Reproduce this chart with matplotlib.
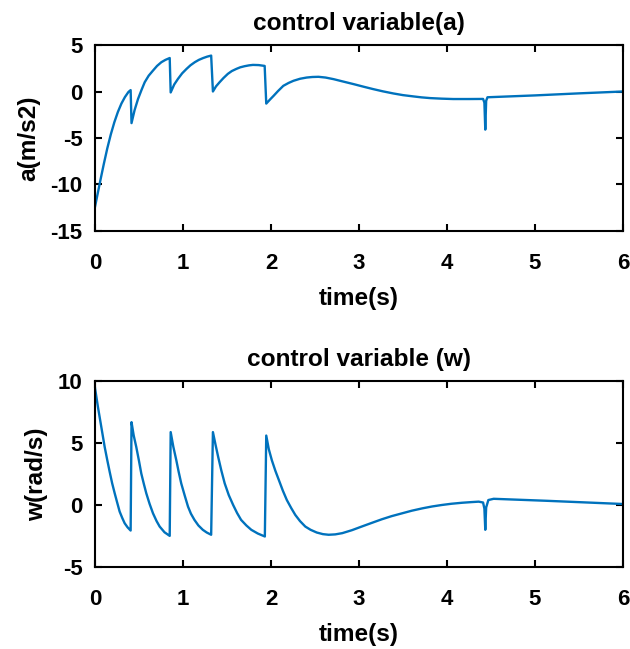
import matplotlib
matplotlib.use("Agg")
import matplotlib.pyplot as plt

# control variable (a)
a_time = [0.0, 0.03, 0.06, 0.10, 0.14, 0.18, 0.22, 0.26, 0.30, 0.34, 0.38, 0.405,
          0.415, 0.45, 0.489, 0.53, 0.565, 0.61, 0.659, 0.705, 0.754, 0.80, 0.849,
          0.86, 0.90, 0.943, 0.99, 1.04, 1.085, 1.134, 1.18, 1.23, 1.275, 1.32,
          1.34, 1.375, 1.416, 1.46, 1.51, 1.555, 1.606, 1.65, 1.70, 1.75, 1.795, 1.86, 1.928,
          1.946, 1.99, 2.03, 2.08, 2.14, 2.20, 2.255, 2.33, 2.405, 2.47, 2.54, 2.62,
          2.71, 2.82, 2.94, 3.05, 3.16, 3.27, 3.39, 3.50, 3.62, 3.71, 3.81, 3.94,
          4.07, 4.25, 4.41, 4.425, 4.435, 4.445, 4.46, 5.0, 5.5, 6.0]
a_vals = [-12.4, -11.0, -9.6, -7.8, -6.1, -4.6, -3.3, -2.2, -1.3, -0.6, -0.05, 0.15,
          -3.4, -2.0, -0.8, 0.2, 1.0, 1.7, 2.25, 2.75, 3.15, 3.4, 3.6,
          -0.1, 0.75, 1.36, 1.95, 2.43, 2.82, 3.15, 3.4, 3.6, 3.75, 3.86,
          0.0, 0.55, 1.0, 1.45, 1.9, 2.2, 2.43, 2.6, 2.72, 2.81, 2.86, 2.84, 2.75,
          -1.3, -0.85, -0.46, 0.05, 0.61, 0.92, 1.15, 1.37, 1.5, 1.56, 1.58, 1.5,
          1.33, 1.07, 0.79, 0.52, 0.26, 0.02, -0.21, -0.39, -0.53, -0.63, -0.71, -0.77,
          -0.81, -0.81, -0.8, -1.2, -4.1, -1.0, -0.62, -0.42, -0.2, 0.0]

# control variable (w)
w_time = [0.0, 0.034, 0.072, 0.11, 0.14, 0.167, 0.195, 0.224, 0.25, 0.28, 0.31, 0.337, 0.37, 0.405,
          0.415, 0.44, 0.469, 0.50, 0.526, 0.555, 0.583, 0.62, 0.659, 0.70, 0.735, 0.79, 0.849,
          0.86, 0.89, 0.924, 0.95, 0.98, 1.02, 1.057, 1.09, 1.13, 1.175, 1.225, 1.27, 1.32,
          1.34, 1.37, 1.40, 1.435, 1.474, 1.52, 1.57, 1.615, 1.66, 1.72, 1.776, 1.85, 1.93,
          1.946, 1.975, 2.01, 2.05, 2.09, 2.135, 2.18, 2.23, 2.276, 2.33, 2.39, 2.45, 2.52,
          2.59, 2.655, 2.73, 2.81, 2.92, 3.03, 3.15, 3.26, 3.37, 3.49, 3.60, 3.72, 3.83,
          3.94, 4.05, 4.17, 4.27, 4.36, 4.41, 4.425, 4.435, 4.445, 4.47, 4.53, 5.13, 6.0]
w_vals = [9.44, 7.88, 6.28, 4.68, 3.6, 2.67, 1.75, 0.94, 0.25, -0.53, -1.05, -1.47, -1.8, -2.06,
          6.68, 5.6, 4.68, 3.55, 2.54, 1.7, 0.94, 0.1, -0.67, -1.3, -1.74, -2.2, -2.49,
          5.88, 4.7, 3.61, 2.7, 1.74, 0.75, -0.13, -0.7, -1.2, -1.65, -2.0, -2.22, -2.4,
          5.88, 4.85, 3.87, 2.8, 1.74, 0.8, 0.0, -0.65, -1.2, -1.65, -2.0, -2.3, -2.54,
          5.6, 4.5, 3.6, 2.75, 2.0, 1.15, 0.4, -0.25, -0.8, -1.3, -1.74, -2.0, -2.22,
          -2.35, -2.4, -2.37, -2.27, -2.03, -1.74, -1.43, -1.15, -0.9, -0.67, -0.46, -0.27, -0.12,
          0.0, 0.1, 0.18, 0.23, 0.27, 0.2, -0.3, -2.0, -0.2, 0.4, 0.5, 0.34, 0.08]

x_ticks = [0, 1, 2, 3, 4, 5, 6]
a_ticks = [-15, -10, -5, 0, 5]
w_ticks = [-5, 0, 5, 10]

plt.rcParams['font.family'] = ['Liberation Sans', 'DejaVu Sans']
plt.rcParams['font.weight'] = 'bold'

W, H = 630, 649
fig = plt.figure(figsize=(W / 100, H / 100), dpi=100)

color = '#0072BD'

def setup(ax, yticks, ylim, title, ylabel):
    ax.set_xlim(0, 6)
    ax.set_ylim(*ylim)
    ax.set_xticks(x_ticks)
    ax.set_yticks(yticks)
    ax.set_xticklabels([str(v) for v in x_ticks], fontweight='bold')
    ax.set_yticklabels([str(v) for v in yticks], fontweight='bold')
    ax.tick_params(direction='in', length=5, width=1.5, labelsize=16,
                   top=True, right=True)
    ax.tick_params(axis='x', pad=16)
    ax.tick_params(axis='y', pad=9)
    for s in ax.spines.values():
        s.set_linewidth(1.5)
    ax.set_title(title, fontsize=17.6, fontweight='bold', pad=11)
    ax.set_xlabel('time(s)', fontsize=17.6, fontweight='bold', labelpad=9)
    ax.set_ylabel(ylabel, fontsize=17.6, fontweight='bold', labelpad=7)

ax1 = fig.add_axes([95 / W, 1 - 231 / H, 528 / W, 186 / H])
ax1.plot(a_time, a_vals, color=color, lw=1.7)
setup(ax1, a_ticks, (-15, 5), 'control variable(a)', 'a(m/s2)')

ax2 = fig.add_axes([95 / W, 1 - 567 / H, 528 / W, 186 / H])
ax2.plot(w_time, w_vals, color=color, lw=1.7)
setup(ax2, w_ticks, (-5, 10), 'control variable (w)', 'w(rad/s)')

fig.savefig('out.png', dpi=100)
